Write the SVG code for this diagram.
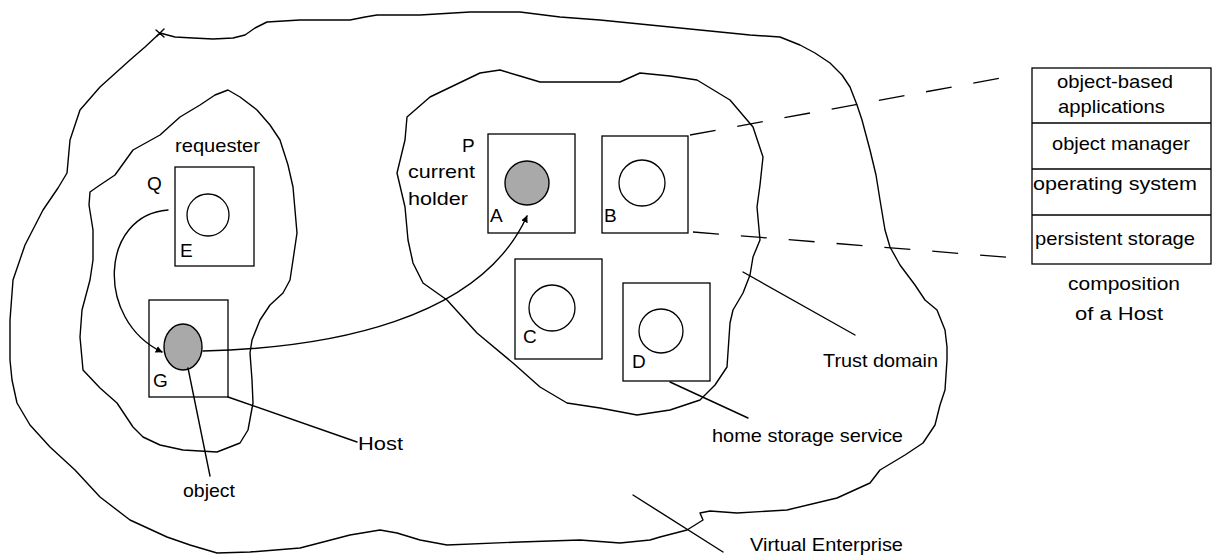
<svg xmlns="http://www.w3.org/2000/svg" width="1213" height="555" viewBox="0 0 1213 555">
<style>
.ln{fill:none;stroke:#000;stroke-width:1.4;stroke-linejoin:round;stroke-linecap:round}
.box{fill:none;stroke:#000;stroke-width:1.3}
.obj{fill:none;stroke:#000;stroke-width:1.3}
.shade{fill:#a9a9a9;stroke:#000;stroke-width:1.4}
.t{font-family:"Liberation Sans",Arial,Helvetica,sans-serif;font-size:19px;fill:#000}
.dash{fill:none;stroke:#000;stroke-width:1.3;stroke-dasharray:26 22}
</style>
<defs>
<marker id="ah" viewBox="0 0 10 10" refX="9" refY="5" markerWidth="7" markerHeight="7" orient="auto" markerUnits="userSpaceOnUse">
<path d="M0,0 L10,5 L0,10 z" fill="#000"/>
</marker>
</defs>
<rect width="1213" height="555" fill="#fff"/>

<g id="virtual-enterprise">
<path class="ln" d="M160,33 L175,37 L193,38 L213,39 L233,38 L245,35 L255,28 L267,22 L300,20 L350,20 L365,17 L377,15 L420,15 L470,12 L520,12 L560,17 L600,20 L650,25 L700,30 L750,35 L780,37 L800,45 L815,53 L830,63 L842,75 L850,87 L857,105 L862,120 L870,150 L876,175 L880,200 L885,230 L890,247 L900,265 L915,285 L925,300 L937,310 L945,330 L947,347 L947,360 L945,390 L940,405 L935,425 L923,443 L905,455 L880,470 L870,483 L837,498 L787,510 L737,513 L710,511 L700,513 L703,520 L687,530 L660,537 L650,540 L620,543 L580,540 L520,542 L447,545 L420,540 L397,533 L380,530 L350,535 L300,548 L250,552 L217,553 L190,545 L167,537 L130,520 L100,497 L75,470 L50,447 L30,425 L17,403 L12,380 L10,360 L10,320 L13,280 L25,245 L43,210 L58,188 L67,173 L70,140 L80,110 L100,87 L130,60 L145,47 L160,33"/>
<path class="ln" d="M156,30 L164,37 M164,29 L157,36" stroke-width="1"/>
<text class="t" x="750" y="551" textLength="153" lengthAdjust="spacingAndGlyphs">Virtual Enterprise</text>
</g>

<g id="requester-region">
<path class="ln" d="M228,90 L240,97 L257,110 L270,125 L280,140 L288,165 L293,187 L297,233 L293,260 L290,280 L283,293 L270,305 L260,320 L252,340 L250,353 L252,380 L253,403 L248,430 L240,443 L217,452 L183,450 L160,445 L143,437 L133,427 L125,415 L117,403 L100,388 L83,370 L80,337 L82,310 L90,280 L93,260 L93,230 L89,205 L90,192 L100,185 L115,175 L133,150 L160,135 L180,117 L200,105 L215,95 Z"/>
<text class="t" x="175" y="152" textLength="85" lengthAdjust="spacingAndGlyphs">requester</text>
</g>

<g id="trust-domain">
<path class="ln" d="M500,70 L520,76 L540,82 L580,82 L620,82 L640,73 L670,76 L697,80 L730,100 L753,127 L763,157 L760,185 L757,207 L760,240 L753,257 L750,275 L743,293 L733,310 L730,323 L727,367 L715,385 L700,400 L670,410 L637,415 L600,408 L567,403 L540,387 L513,363 L477,333 L447,300 L423,283 L413,263 L408,240 L405,207 L397,173 L405,140 L407,117 L430,97 L455,85 L480,73 Z"/>
<text class="t" x="823" y="367" textLength="115" lengthAdjust="spacingAndGlyphs">Trust domain</text>
</g>

<g id="host-E">
<rect class="box" x="175" y="167" width="79" height="99"/>
<circle class="obj" cx="208" cy="215" r="21"/>
<text class="t" x="147" y="190">Q</text>
<text class="t" x="180" y="257">E</text>
</g>

<g id="host-G">
<rect class="box" x="149" y="300" width="79" height="97"/>
<ellipse class="shade" cx="183" cy="347" rx="19" ry="23"/>
<text class="t" x="153" y="387">G</text>
<text class="t" x="183" y="497" textLength="52" lengthAdjust="spacingAndGlyphs">object</text>
<text class="t" x="358" y="450" textLength="45" lengthAdjust="spacingAndGlyphs">Host</text>
</g>

<g id="host-A">
<rect class="box" x="488" y="134" width="87" height="99"/>
<circle class="shade" cx="527" cy="183" r="22"/>
<text class="t" x="462" y="152">P</text>
<text class="t" x="408" y="178" textLength="67" lengthAdjust="spacingAndGlyphs">current</text>
<text class="t" x="408" y="205" textLength="60" lengthAdjust="spacingAndGlyphs">holder</text>
<text class="t" x="490" y="222">A</text>
</g>

<g id="host-B">
<rect class="box" x="602" y="136" width="86" height="97"/>
<circle class="obj" cx="642" cy="183" r="23"/>
<text class="t" x="604" y="222">B</text>
</g>

<g id="host-C">
<rect class="box" x="515" y="259" width="87" height="100"/>
<circle class="obj" cx="552" cy="308" r="23"/>
<text class="t" x="523" y="343">C</text>
</g>

<g id="host-D">
<rect class="box" x="623" y="283" width="87" height="98"/>
<circle class="obj" cx="661" cy="331" r="22"/>
<text class="t" x="632" y="368">D</text>
<text class="t" x="712" y="442" textLength="191" lengthAdjust="spacingAndGlyphs">home storage service</text>
</g>

<g id="host-composition">
<rect class="box" x="1032" y="68" width="179" height="196"/>
<line class="box" x1="1032" y1="123" x2="1211" y2="123"/>
<line class="box" x1="1032" y1="169" x2="1211" y2="169"/>
<line class="box" x1="1032" y1="215" x2="1211" y2="215"/>
<text class="t" x="1057" y="88" textLength="116" lengthAdjust="spacingAndGlyphs">object-based</text>
<text class="t" x="1058" y="113" textLength="107" lengthAdjust="spacingAndGlyphs">applications</text>
<text class="t" x="1052" y="150" textLength="138" lengthAdjust="spacingAndGlyphs">object manager</text>
<text class="t" x="1033" y="190" textLength="164" lengthAdjust="spacingAndGlyphs">operating system</text>
<text class="t" x="1035" y="245" textLength="160" lengthAdjust="spacingAndGlyphs">persistent storage</text>
<text class="t" x="1068" y="290" textLength="112" lengthAdjust="spacingAndGlyphs">composition</text>
<text class="t" x="1075" y="320" textLength="88" lengthAdjust="spacingAndGlyphs">of a Host</text>
</g>

<g id="connectors">
<path class="ln" d="M168,210 C100,215 95,320 162,352" marker-end="url(#ah)"/>
<path class="ln" d="M203,351 C330,348 480,320 527,216" marker-end="url(#ah)"/>
<line class="ln" x1="228" y1="397" x2="357" y2="442"/>
<line class="ln" x1="188" y1="368" x2="210" y2="476"/>
<line class="ln" x1="670" y1="382" x2="748" y2="418"/>
<line class="ln" x1="743" y1="272" x2="855" y2="335"/>
<line class="ln" x1="633" y1="495" x2="723" y2="552"/>
<line class="dash" x1="690" y1="135" x2="1012" y2="76"/>
<line class="dash" x1="693" y1="232" x2="1017" y2="258"/>
</g>
</svg>
